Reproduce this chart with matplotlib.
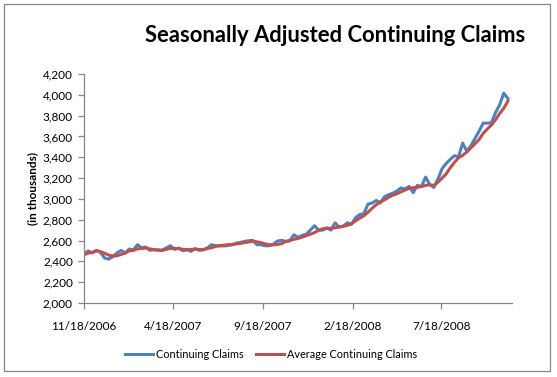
import matplotlib
matplotlib.use("Agg")
import matplotlib.pyplot as plt
import matplotlib.dates as mdates
from matplotlib.patches import Rectangle
import numpy as np
import datetime as dt

start = dt.date(2006, 11, 18)
continuing = [2470, 2500, 2480, 2505, 2486, 2432, 2422, 2445, 2480, 2505,
              2480, 2518, 2512, 2560, 2528, 2538, 2506, 2512, 2510, 2506,
              2530, 2550, 2515, 2528, 2502, 2512, 2496, 2522, 2506, 2512,
              2530, 2560, 2550, 2550, 2548, 2552, 2560, 2575, 2582, 2592,
              2598, 2602, 2560, 2560, 2550, 2550, 2565, 2595, 2602, 2592,
              2598, 2656, 2630, 2650, 2660, 2700, 2742, 2700, 2700, 2720,
              2700, 2770, 2730, 2740, 2770, 2755, 2820, 2850, 2858, 2950,
              2960, 2985, 2960, 3020, 3040, 3055, 3075, 3105, 3095, 3120,
              3060, 3130, 3120, 3210, 3140, 3110, 3190, 3290, 3340, 3380,
              3415, 3405, 3536, 3460, 3510, 3580, 3650, 3728, 3728, 3730,
              3830, 3904, 4016, 3965]
average = [2464, 2478, 2488, 2502, 2494, 2478, 2460, 2452, 2454, 2466,
           2480, 2500, 2506, 2520, 2524, 2528, 2520, 2512, 2508, 2506,
           2515, 2526, 2525, 2522, 2516, 2512, 2514, 2518, 2514, 2512,
           2524, 2530, 2545, 2550, 2556, 2560, 2562, 2568, 2572, 2580,
           2586, 2592, 2588, 2580, 2568, 2560, 2558, 2562, 2570, 2590,
           2600, 2612, 2620, 2632, 2648, 2660, 2676, 2700, 2712, 2720,
           2716, 2722, 2730, 2736, 2746, 2762, 2790, 2815, 2838, 2872,
           2910, 2944, 2972, 2990, 3015, 3035, 3048, 3068, 3085, 3100,
           3108, 3112, 3118, 3130, 3136, 3128, 3160, 3200, 3240, 3300,
           3350, 3395, 3418, 3450, 3490, 3530, 3570, 3630, 3672, 3710,
           3760, 3820, 3870, 3940]
dates = [start + dt.timedelta(weeks=i) for i in range(len(continuing))]
tick_dates = [dt.date(2006, 11, 18), dt.date(2007, 4, 18), dt.date(2007, 9, 18),
              dt.date(2008, 2, 18), dt.date(2008, 7, 18)]
tick_labels = ["11/18/2006", "4/18/2007", "9/18/2007", "2/18/2008", "7/18/2008"]
yticks = list(range(2000, 4201, 200))

W, H = 557, 377
fig = plt.figure(figsize=(W / 100, H / 100), dpi=100)
plt.rcParams['font.family'] = ['Lato', 'DejaVu Sans']

# outer border
fig.patches.append(Rectangle((4 / W, 1 - 371 / H), 546 / W, 367 / H,
                             transform=fig.transFigure, fill=False,
                             edgecolor='#868686', linewidth=0.9))

ax = fig.add_axes([84 / W, 1 - 303 / H, (512 - 84) / W, (303 - 74) / H])
ax.plot(dates, continuing, color='#4F81BD', linewidth=2.2, label='Continuing Claims')
ax.plot(dates, average, color='#C0504D', linewidth=2.2, label='Average Continuing Claims')

ax.set_xlim(dt.date(2006, 11, 18), dt.date(2008, 11, 15))
ax.set_ylim(2000, 4200)
ax.set_yticks(yticks)
ax.set_yticklabels([f"{v:,}" for v in yticks])
ax.set_xticks(tick_dates)
ax.set_xticklabels(tick_labels)

for s in ['top', 'right']:
    ax.spines[s].set_visible(False)
for s in ['left', 'bottom']:
    ax.spines[s].set_color('#868686')
    ax.spines[s].set_linewidth(0.9)
ax.tick_params(axis='both', colors='#868686', length=4, width=0.9, labelcolor='black',
               labelsize=8.5)
ax.tick_params(axis='y', pad=4)
ax.tick_params(axis='x', pad=9)

ax.set_ylabel('(in thousands)', fontsize=8.5, fontweight='bold', labelpad=3)

fig.text(335 / W, 1 - 36 / H, 'Seasonally Adjusted Continuing Claims',
         ha='center', va='center', fontsize=15.8, fontweight='bold')

fig.legend(loc='center', bbox_to_anchor=(271 / W, 1 - 354 / H), ncol=2, frameon=False,
           fontsize=7.8, handlelength=2.6, handletextpad=0.2, columnspacing=1.2)

fig.savefig('out.png', dpi=100)
